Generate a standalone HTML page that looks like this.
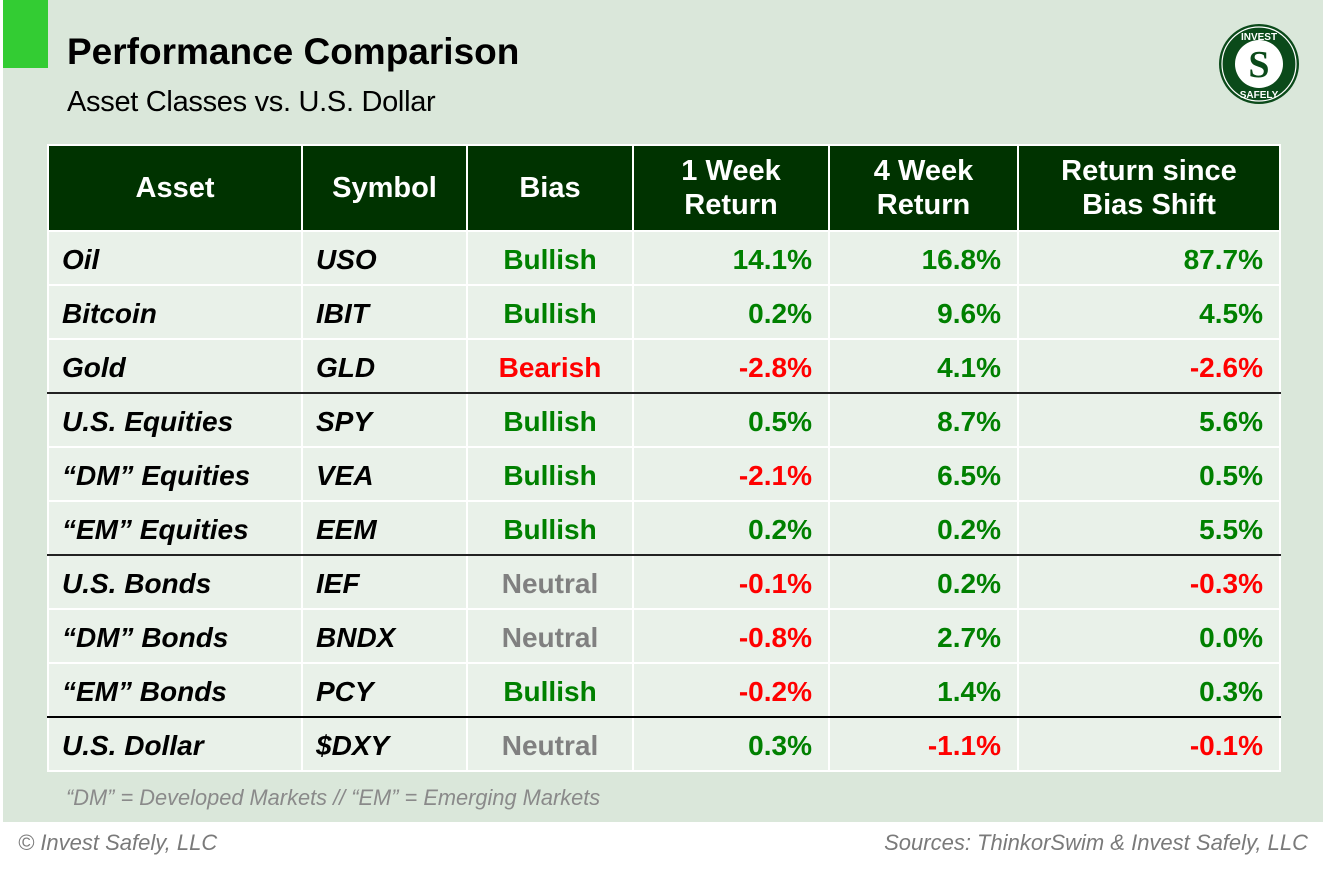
<!DOCTYPE html>
<html><head><style>
body{margin:0;width:1327px;height:875px;background:#fff;position:relative;font-family:"Liberation Sans",Arial,sans-serif;overflow:hidden}
.panel{position:absolute;left:3px;top:0;width:1320px;height:822px;background:#dae7da}
.acc{position:absolute;left:3px;top:0;width:45px;height:68px;background:#33cc33}
.t{position:absolute;left:67px;top:31px;font-size:37px;font-weight:bold;color:#000}
.s{position:absolute;left:67px;top:86px;font-size:29px;color:#000;letter-spacing:-0.3px}
table{position:absolute;left:47px;top:144px;border-collapse:collapse}
td,th{border:2px solid #fff;padding:0 16px;font-size:28px;font-weight:bold;box-sizing:border-box}
th{background:#003300;color:#fff;height:86px;text-align:center;line-height:34px;font-size:29px}
td{background:#e9f1e9;height:54px;padding-top:4px}
td.i{font-style:italic;color:#000;padding-left:13px}
.c{text-align:center}.r{text-align:right}
.g{color:#008000}.rd{color:#ff0000}.n{color:#808080}
tr.b td{border-bottom:2px solid #222}
tr.bb td{border-bottom:2px solid #000}
.note{position:absolute;left:66px;top:785px;font-size:21.8px;font-style:italic;color:#8a8a8a}
.f1{position:absolute;left:18px;top:830px;font-size:22px;font-style:italic;color:#7a7a7a}
.f2{position:absolute;right:19px;top:830px;font-size:22px;font-style:italic;color:#7a7a7a}
</style></head><body>
<div class="panel"></div><div class="acc"></div>
<div class="t">Performance Comparison</div>
<div class="s">Asset Classes vs. U.S. Dollar</div>
<svg style="position:absolute;left:1218px;top:23px" width="82" height="82" viewBox="0 0 82 82">
<circle cx="41" cy="41" r="40" fill="#0b4a1a"/><circle cx="41" cy="41" r="37" fill="none" stroke="#fff" stroke-width="1.2"/>
<circle cx="41" cy="41" r="24" fill="#fff"/>
<text x="41" y="54" text-anchor="middle" font-family="Liberation Serif" font-weight="bold" font-size="38" fill="#0b4a1a">S</text>
<text x="41" y="17" text-anchor="middle" font-size="10" font-weight="bold" fill="#fff">INVEST</text>
<text x="41" y="75" text-anchor="middle" font-size="10" font-weight="bold" fill="#fff">SAFELY</text>
</svg>
<table>
<tr><th style="width:254px">Asset</th><th style="width:165px">Symbol</th><th style="width:166px">Bias</th><th style="width:196px">1 Week<br>Return</th><th style="width:189px">4 Week<br>Return</th><th style="width:262px">Return since<br>Bias Shift</th></tr>
<tr><td class="i">Oil</td><td class="i">USO</td><td class="c g">Bullish</td><td class="r g">14.1%</td><td class="r g">16.8%</td><td class="r g">87.7%</td></tr>
<tr><td class="i">Bitcoin</td><td class="i">IBIT</td><td class="c g">Bullish</td><td class="r g">0.2%</td><td class="r g">9.6%</td><td class="r g">4.5%</td></tr>
<tr class="b"><td class="i">Gold</td><td class="i">GLD</td><td class="c rd">Bearish</td><td class="r rd">-2.8%</td><td class="r g">4.1%</td><td class="r rd">-2.6%</td></tr>
<tr><td class="i">U.S. Equities</td><td class="i">SPY</td><td class="c g">Bullish</td><td class="r g">0.5%</td><td class="r g">8.7%</td><td class="r g">5.6%</td></tr>
<tr><td class="i">“DM” Equities</td><td class="i">VEA</td><td class="c g">Bullish</td><td class="r rd">-2.1%</td><td class="r g">6.5%</td><td class="r g">0.5%</td></tr>
<tr class="b"><td class="i">“EM” Equities</td><td class="i">EEM</td><td class="c g">Bullish</td><td class="r g">0.2%</td><td class="r g">0.2%</td><td class="r g">5.5%</td></tr>
<tr><td class="i">U.S. Bonds</td><td class="i">IEF</td><td class="c n">Neutral</td><td class="r rd">-0.1%</td><td class="r g">0.2%</td><td class="r rd">-0.3%</td></tr>
<tr><td class="i">“DM” Bonds</td><td class="i">BNDX</td><td class="c n">Neutral</td><td class="r rd">-0.8%</td><td class="r g">2.7%</td><td class="r g">0.0%</td></tr>
<tr class="bb"><td class="i">“EM” Bonds</td><td class="i">PCY</td><td class="c g">Bullish</td><td class="r rd">-0.2%</td><td class="r g">1.4%</td><td class="r g">0.3%</td></tr>
<tr><td class="i">U.S. Dollar</td><td class="i">$DXY</td><td class="c n">Neutral</td><td class="r g">0.3%</td><td class="r rd">-1.1%</td><td class="r rd">-0.1%</td></tr>
</table>
<div class="note">“DM” = Developed Markets // “EM” = Emerging Markets</div>
<div class="f1">© Invest Safely, LLC</div>
<div class="f2">Sources: ThinkorSwim &amp; Invest Safely, LLC</div>
</body></html>
